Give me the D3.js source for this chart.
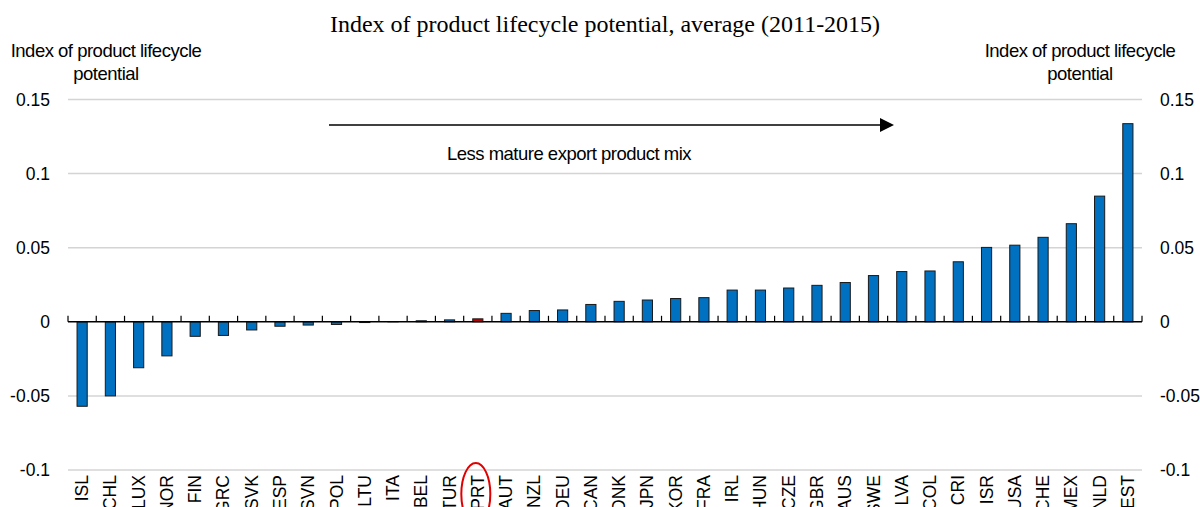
<!DOCTYPE html>
<html>
<head>
<meta charset="utf-8">
<script src="https://cdn.jsdelivr.net/npm/d3@7"></script>
<style>
  body { margin: 0; background: #fff; }
  svg { display: block; }
  text { font-family: "Liberation Sans", Arial, sans-serif; fill: #000; }
</style>
</head>
<body>
<div id="chart"></div>
<script>
var countries = ['ISL', 'CHL', 'LUX', 'NOR', 'FIN', 'GRC', 'SVK', 'ESP', 'SVN', 'POL',
                 'LTU', 'ITA', 'BEL', 'TUR', 'PRT', 'AUT', 'NZL', 'DEU', 'CAN', 'DNK',
                 'JPN', 'KOR', 'FRA', 'IRL', 'HUN', 'CZE', 'GBR', 'AUS', 'SWE', 'LVA',
                 'COL', 'CRI', 'ISR', 'USA', 'CHE', 'MEX', 'NLD', 'EST'];
var values = [-0.057, -0.050, -0.031, -0.023, -0.0098, -0.0092, -0.0055, -0.003, -0.0022, -0.0018,
              -0.0005, 0.0001, 0.0007, 0.0013, 0.002, 0.0057, 0.0076, 0.008, 0.0117, 0.0138,
              0.0147, 0.0157, 0.0163, 0.0214, 0.0214, 0.0228, 0.0246, 0.0265, 0.0312, 0.0339,
              0.0343, 0.0405, 0.0502, 0.0517, 0.057, 0.0662, 0.0848, 0.1337];
var yTicks = [-0.1, -0.05, 0, 0.05, 0.1, 0.15];
var yTickLabels = ['-0.1', '-0.05', '0', '0.05', '0.1', '0.15'];
var highlight = 'PRT';

var width      = 1200,
    height     = 507,
    plotLeft   = 68,
    plotRight  = 1142,
    plotTop    = 99.5,
    plotBottom = 470,
    svg        = d3.select('#chart').append('svg').attr('width', width).attr('height', height);

var x = d3.scaleBand().domain(countries).range([plotLeft, plotRight]).paddingInner(0.64).paddingOuter(0.32);
var y = d3.scaleLinear().domain([-0.1, 0.15]).range([plotBottom, plotTop]);
var step = x.step();

// title
svg.append('text')
    .attr('x', 605).attr('y', 32)
    .attr('text-anchor', 'middle')
    .style('font-family', '"Liberation Serif", "Times New Roman", serif')
    .style('font-size', '24px')
    .text('Index of product lifecycle potential, average (2011-2015)');

// axis titles, both sides
[106, 1080].forEach(function(cx) {
    var t = svg.append('text')
        .attr('text-anchor', 'middle')
        .style('font-size', '18.5px')
        .style('letter-spacing', '-0.5px');
    t.append('tspan').attr('x', cx).attr('y', 57).text('Index of product lifecycle');
    t.append('tspan').attr('x', cx).attr('y', 80).text('potential');
});

// gridlines
svg.append('g')
    .selectAll('line')
    .data(yTicks.filter(function(v) { return v !== 0; }))
    .enter().append('line')
    .attr('x1', plotLeft).attr('x2', plotRight)
    .attr('y1', function(d) { return y(d); })
    .attr('y2', function(d) { return y(d); })
    .style('stroke', '#d4d4d4')
    .style('stroke-width', 1.5);

// tick labels left + right
svg.append('g').selectAll('text')
    .data(yTicks).enter().append('text')
    .attr('x', 50).attr('y', function(d) { return y(d) + 6; })
    .attr('text-anchor', 'end')
    .style('font-size', '17.5px')
    .text(function(d, i) { return yTickLabels[i]; });
svg.append('g').selectAll('text')
    .data(yTicks).enter().append('text')
    .attr('x', 1160).attr('y', function(d) { return y(d) + 6; })
    .attr('text-anchor', 'start')
    .style('font-size', '17.5px')
    .text(function(d, i) { return yTickLabels[i]; });

// bars
svg.append('g').selectAll('rect')
    .data(countries).enter().append('rect')
    .attr('x', function(d) { return x(d); })
    .attr('width', x.bandwidth())
    .attr('y', function(d, i) { return Math.min(y(values[i]), y(0)); })
    .attr('height', function(d, i) { return Math.abs(y(values[i]) - y(0)); })
    .style('fill', function(d) { return d === highlight ? '#c00000' : '#0070c0'; })
    .style('stroke', '#1a1a1a')
    .style('stroke-width', 1);

// zero axis with ticks pointing up
svg.append('line')
    .attr('x1', plotLeft).attr('x2', plotRight)
    .attr('y1', y(0)).attr('y2', y(0))
    .style('stroke', '#000').style('stroke-width', 1.5);
svg.append('g').selectAll('line')
    .data(d3.range(countries.length + 1)).enter().append('line')
    .attr('x1', function(i) { return plotLeft + i * step; })
    .attr('x2', function(i) { return plotLeft + i * step; })
    .attr('y1', y(0)).attr('y2', y(0) - 6)
    .style('stroke', '#000').style('stroke-width', 1.2);

// category labels
svg.append('g').selectAll('text')
    .data(countries).enter().append('text')
    .attr('transform', function(d) {
        return 'translate(' + (x(d) + x.bandwidth() / 2 + 6) + ',475) rotate(-90)';
    })
    .attr('text-anchor', 'end')
    .style('font-size', '17.5px')
    .text(function(d) { return d; });

// red circle around PRT
svg.append('ellipse')
    .attr('cx', x(highlight) + x.bandwidth() / 2 - 2)
    .attr('cy', 494)
    .attr('rx', 14.5).attr('ry', 31)
    .style('fill', 'none')
    .style('stroke', '#e00000')
    .style('stroke-width', 2);

// arrow annotation
svg.append('defs').append('marker')
    .attr('id', 'head')
    .attr('viewBox', '0 0 10 10')
    .attr('refX', 0).attr('refY', 5)
    .attr('markerWidth', 16).attr('markerHeight', 14)
    .attr('markerUnits', 'userSpaceOnUse')
    .attr('orient', 'auto')
    .append('path').attr('d', 'M0,0L10,5L0,10Z').style('fill', '#000');
svg.append('line')
    .attr('x1', 329).attr('x2', 880)
    .attr('y1', 125).attr('y2', 125)
    .style('stroke', '#000').style('stroke-width', 1.5)
    .attr('marker-end', 'url(#head)');
svg.append('text')
    .attr('x', 569).attr('y', 160)
    .attr('text-anchor', 'middle')
    .style('font-size', '18.5px')
    .style('letter-spacing', '-0.5px')
    .text('Less mature export product mix');
</script>
</body>
</html>
